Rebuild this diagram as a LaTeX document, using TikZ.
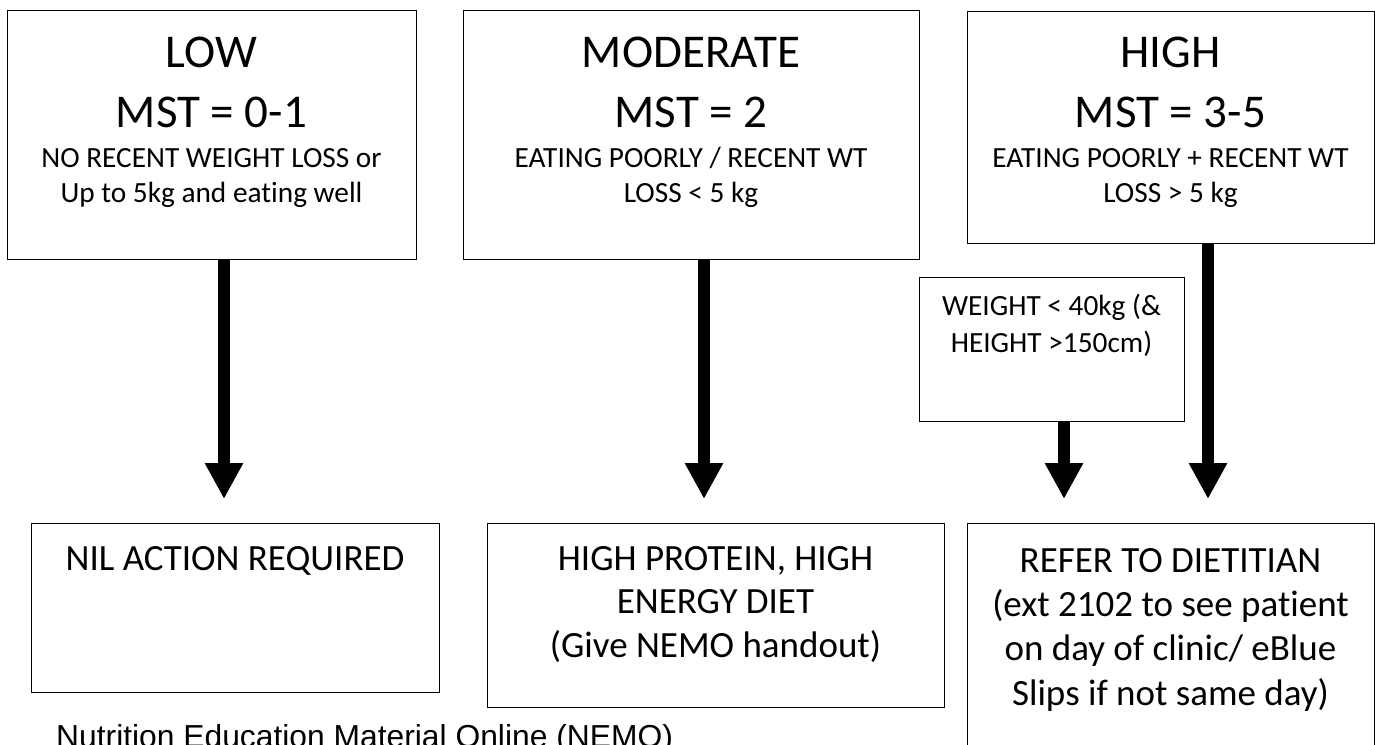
\documentclass[tikz,border=0pt]{standalone}
\usepackage{fontspec}
\setmainfont[Ligatures=NoCommon]{Carlito}
\newfontfamily\arialf{Liberation Sans}
\usetikzlibrary{arrows.meta}
\begin{document}
\begin{tikzpicture}[x=1pt,y=-1pt,
  box/.style={draw=black,line width=1.3pt,inner sep=0pt,anchor=north west},
  big/.style={inner sep=0pt,anchor=base,font=\fontsize{47}{50}\selectfont},
  sm/.style={inner sep=0pt,anchor=base,font=\fontsize{29.3}{32}\selectfont},
  md/.style={inner sep=0pt,anchor=base,font=\fontsize{37}{42}\selectfont},
  flow/.style={line width=12pt,-{Triangle[width=36pt,length=36pt]},shorten >=24pt}]
\useasboundingbox (0,0) rectangle (1375,744);
% boxes
\node[box,minimum width=409pt,minimum height=249pt] (low) at (7,10) {};
\node[box,minimum width=456pt,minimum height=249pt] (mod) at (463,10) {};
\node[box,minimum width=406.5pt,minimum height=232.5pt] (high) at (967,10.5) {};
\node[box,minimum width=265pt,minimum height=144pt] (wt) at (919,277) {};
\node[box,minimum width=408pt,minimum height=169pt] (nil) at (31,523) {};
\node[box,minimum width=457pt,minimum height=184pt] (hp) at (487,523) {};
\node[box,minimum width=406.5pt,minimum height=240pt] (ref) at (967,523) {};
% texts
\node[big] (lowa) at (211.5,67) {LOW};
\node[big] (lowb) at (211.5,127) {MST = 0-1};
\node[sm] (lowc) at (211.5,167) {NO RECENT WEIGHT LOSS or};
\node[sm] (lowd) at (211.5,202) {Up to 5kg and eating well};
\node[big] (moda) at (691,67) {MODERATE};
\node[big] (modb) at (691,127) {MST = 2};
\node[sm] (modc) at (691,167) {EATING POORLY / RECENT WT};
\node[sm] (modd) at (691,202) {LOSS < 5 kg};
\node[big] (higha) at (1170.5,67) {HIGH};
\node[big] (highb) at (1170.5,127) {MST = 3-5};
\node[sm] (highc) at (1170.5,167) {EATING POORLY + RECENT WT};
\node[sm] (highd) at (1170.5,202) {LOSS > 5 kg};
\node[sm] (wta) at (1051.5,315) {WEIGHT < 40kg (\&};
\node[sm] (wtb) at (1051.5,352) {HEIGHT >150cm)};
\node[md] (nila) at (235,570) {NIL ACTION REQUIRED};
\node[md] (hpa) at (715.5,570) {HIGH PROTEIN, HIGH};
\node[md] (hpb) at (715.5,613.5) {ENERGY DIET};
\node[md] (hpc) at (715.5,657) {(Give NEMO handout)};
\node[md] (refa) at (1170.5,572) {REFER TO DIETITIAN};
\node[md] (refb) at (1170.5,616) {(ext 2102 to see patient};
\node[md] (refc) at (1170.5,660) {on day of clinic/ eBlue};
\node[md] (refd) at (1170.5,705) {Slips if not same day)};
\node[inner sep=0pt,anchor=base west,font=\arialf\fontsize{31.8}{36}\selectfont] (foot) at (56,747) {Nutrition Education Material Online (NEMO)};
% arrows
\coordinate (ax1) at (224,0);
\coordinate (ax2) at (704,0);
\coordinate (ax3) at (1064,0);
\coordinate (ax4) at (1208,0);
\draw[flow] (low.south -| ax1) -- (nil.north -| ax1);
\draw[flow] (mod.south -| ax2) -- (hp.north -| ax2);
\draw[flow] (wt.south -| ax3) -- (ref.north -| ax3);
\draw[flow] (high.south -| ax4) -- (ref.north -| ax4);
\end{tikzpicture}
\end{document}
